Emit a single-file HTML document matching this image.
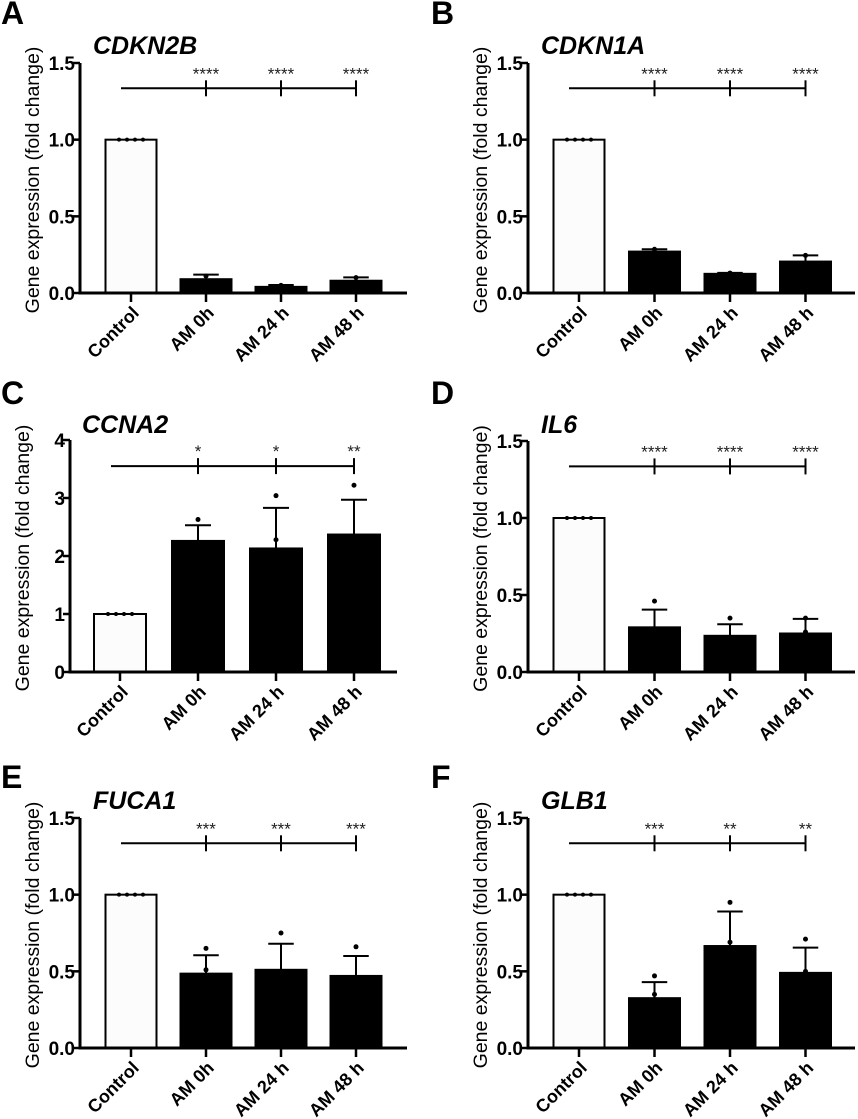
<!DOCTYPE html>
<html><head><meta charset="utf-8"><style>
html,body{margin:0;padding:0;background:#fff;}
svg{display:block;font-family:"Liberation Sans",Arial,sans-serif;}
</style></head><body>
<svg id="fig" width="858" height="1119" viewBox="0 0 858 1119" xmlns="http://www.w3.org/2000/svg"></svg>
<script>
const categories = ["Control","AM 0h","AM 24 h","AM 48 h"];
const titles = ["CDKN2B","CDKN1A","CCNA2","IL6","FUCA1","GLB1"];
const letters = ["A","B","C","D","E","F"];
const meansA = [1,0.09,0.04,0.08];
const errsA = [0,0.03,0.012,0.022];
const meansB = [1,0.27,0.125,0.205];
const errsB = [0,0.015,0.006,0.04];
const meansC = [1,2.26,2.13,2.37];
const errsC = [0,0.27,0.70,0.60];
const meansD = [1,0.29,0.235,0.25];
const errsD = [0,0.115,0.075,0.095];
const meansE = [1,0.485,0.51,0.47];
const errsE = [0,0.12,0.17,0.13];
const meansF = [1,0.325,0.665,0.49];
const errsF = [0,0.105,0.225,0.165];
const dotsA = [[],[0.11],[0.05],[0.1]];
const dotsB = [[],[0.285],[0.13],[0.245]];
const dotsC = [[],[2.63],[3.04,2.28],[3.22]];
const dotsD = [[],[0.46],[0.35],[0.35,0.26]];
const dotsE = [[],[0.65,0.51],[0.75],[0.66]];
const dotsF = [[],[0.47,0.35],[0.95,0.69],[0.71,0.5]];
const sigA = ["****","****","****"];
const sigB = ["****","****","****"];
const sigC = ["*","*","**"];
const sigD = ["****","****","****"];
const sigE = ["***","***","***"];
const sigF = ["***","**","**"];
const ticks15 = [0,0.5,1.0,1.5];
const ticks15Labels = ["0.0","0.5","1.0","1.5"];
const ticks4 = [0,1,2,3,4];
const ticks4Labels = ["0","1","2","3","4"];

const NS="http://www.w3.org/2000/svg";
const svg=document.getElementById('fig');
function mk(tag,attrs,parent){const e=document.createElementNS(NS,tag);for(const k in attrs)e.setAttribute(k,attrs[k]);(parent||svg).appendChild(e);return e;}

const panels=[
 {ax:80,y0:293,ytop:63,max:1.5,m:meansA,e:errsA,d:dotsA,s:sigA,t:ticks15,tl:ticks15Labels,c0:51,sp:75,bw:51,sigv:1.335,lx:1,ly:24,tx:93,ty:54},
 {ax:528,y0:293,ytop:63,max:1.5,m:meansB,e:errsB,d:dotsB,s:sigB,t:ticks15,tl:ticks15Labels,c0:51,sp:75.5,bw:51,sigv:1.335,lx:431,ly:24,tx:541,ty:54},
 {ax:70,y0:672,ytop:440,max:4,m:meansC,e:errsC,d:dotsC,s:sigC,t:ticks4,tl:ticks4Labels,c0:50,sp:78,bw:52,sigv:3.55,lx:1,ly:404,tx:82,ty:433},
 {ax:528,y0:672,ytop:441,max:1.5,m:meansD,e:errsD,d:dotsD,s:sigD,t:ticks15,tl:ticks15Labels,c0:51,sp:75.5,bw:51,sigv:1.335,lx:431,ly:404,tx:541,ty:433},
 {ax:80,y0:1048,ytop:818,max:1.5,m:meansE,e:errsE,d:dotsE,s:sigE,t:ticks15,tl:ticks15Labels,c0:51,sp:75,bw:51,sigv:1.335,lx:1,ly:788,tx:93,ty:809},
 {ax:528,y0:1048,ytop:818,max:1.5,m:meansF,e:errsF,d:dotsF,s:sigF,t:ticks15,tl:ticks15Labels,c0:51,sp:75.5,bw:51,sigv:1.335,lx:431,ly:788,tx:541,ty:809}
];

panels.forEach((p,pi)=>{
  const g=mk('g',{});
  
  
  const ys=v=>p.y0-(v/p.max)*(p.y0-p.ytop);
  const xs=i=>p.ax+p.c0+i*p.sp;
  const L=mk('text',{x:p.lx,y:p.ly,'font-size':32,'font-weight':'bold',fill:'#000'},g);L.textContent=letters[pi];
  
  const T=mk('text',{x:p.tx,y:p.ty,'font-size':25,'font-weight':'bold','font-style':'italic',fill:'#000'},g);T.textContent=titles[pi];
  
  const yl=mk('text',{x:0,y:0,'font-size':19.5,'text-anchor':'middle',fill:'#000',transform:`translate(${p.ax-41},${(p.y0+p.ytop)/2+2}) rotate(-90)`},g);
  yl.textContent='Gene expression (fold change)';
  
  p.m.forEach((v,i)=>{
    const cx=xs(i);
    const r=mk('rect',{x:cx-p.bw/2,y:ys(v),width:p.bw,height:p.y0-ys(v),fill:i==0?'#fcfcfc':'#000',stroke:'#000','stroke-width':2},g);
    
    
    if(p.e[i]>0){
      const ey=ys(v+p.e[i]);
      const el=mk('path',{d:`M${cx},${ys(v)} V${ey} M${cx-p.bw/4},${ey} H${cx+p.bw/4}`,stroke:'#000','stroke-width':2,fill:'none'},g);
      
    }
    if(i==0){
      for(let k=0;k<4;k++){const c=mk('circle',{cx:cx-12+k*8,cy:ys(v),r:2,fill:'#000'},g);
        }
    }
    p.d[i].forEach(dv=>{const c=mk('circle',{cx:cx,cy:ys(dv),r:2.5,fill:'#000'},g);
      });
    const tk=mk('line',{x1:cx,x2:cx,y1:p.y0,y2:p.y0+9,stroke:'#000','stroke-width':2.5},g);
    
    const xl=mk('text',{x:0,y:0,'font-size':18,'font-weight':'bold','text-anchor':'end',fill:'#000',transform:`translate(${cx+9},${p.y0+21}) rotate(-45)`},g);
    xl.textContent=categories[i];
    
  });
  const axl=mk('path',{d:`M${p.ax},${p.ytop} V${p.y0} H${p.ax+327}`,stroke:'#000','stroke-width':3,fill:'none'},g);
  
  p.t.forEach((tv,k)=>{
    const y=ys(tv);
    const tl=mk('line',{x1:p.ax-7,x2:p.ax,y1:y,y2:y,stroke:'#000','stroke-width':2.5},g);
    
    const tt=mk('text',{x:p.ax-5,y:y+7,'font-size':19,'font-weight':'bold','text-anchor':'end',fill:'#000'},g);
    tt.textContent=p.tl[k];
    
  });
  const sy=ys(p.sigv);
  const sl=mk('line',{x1:p.ax+41,x2:xs(3),y1:sy,y2:sy,stroke:'#000','stroke-width':2},g);
  
  p.s.forEach((s,k)=>{
    const cx=xs(k+1);
    const st=mk('line',{x1:cx,x2:cx,y1:sy-8,y2:sy+8,stroke:'#000','stroke-width':2},g);
    
    const tx=mk('text',{x:cx,y:sy-9,'font-size':17,'text-anchor':'middle',fill:'#222'},g);
    tx.textContent=s;
    
  });
});
</script>
</body></html>
